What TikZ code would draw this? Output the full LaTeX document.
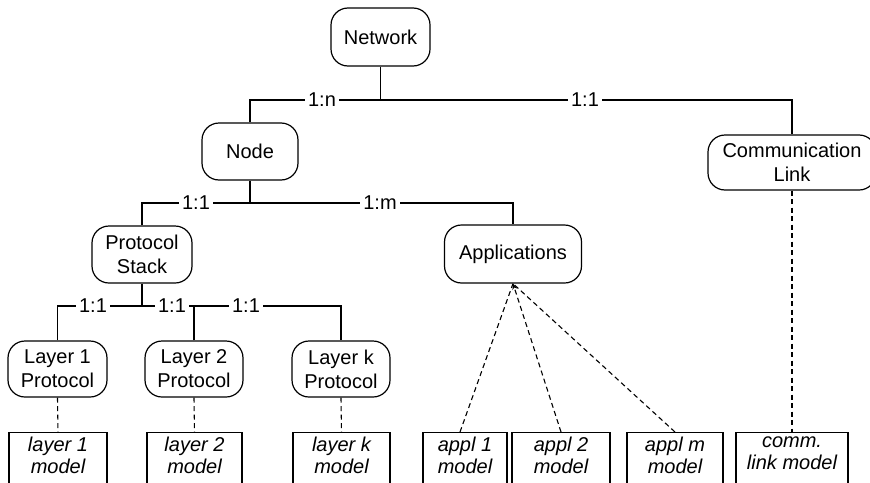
\documentclass[tikz,border=0pt]{standalone}
\usepackage{fontspec}
\setmainfont{Liberation Sans}
\usetikzlibrary{arrows.meta}
\begin{document}
\begin{tikzpicture}[x=1pt,y=-1pt,
  every node/.style={font=\fontsize{20}{24}\selectfont},
  rbox/.style={draw, line width=1.2pt, rounded corners=17pt, align=center, inner sep=0pt},
  mbox/.style={draw, line width=1.2pt, minimum height=70pt, anchor=north, inner sep=0pt},
  mtext/.style={anchor=north, align=center, font=\fontsize{20}{22}\selectfont\itshape, inner sep=0pt},
  lab/.style={fill=white, inner xsep=3pt, inner ysep=1pt},
  conn/.style={line width=1.2pt},
  dconn/.style={line width=1.1pt, dash pattern=on 5pt off 3.5pt}]
\useasboundingbox (0,0) rectangle (870,482);

% rounded nodes
\node[rbox, minimum width=99pt, minimum height=58pt] (net) at (380.5,37) {Network};
\node[rbox, minimum width=96pt, minimum height=57pt] (node) at (250,151.5) {Node};
\node[rbox, minimum width=168pt, minimum height=55pt] (comm) at (792,162.5) {Communication\\Link};
\node[rbox, minimum width=100pt, minimum height=57pt] (ps) at (142,254.5) {Protocol\\Stack};
\node[rbox, minimum width=137pt, minimum height=58pt] (app) at (513,254) {Applications};
\node[rbox, minimum width=99pt, minimum height=56pt] (l1) at (57.5,369) {Layer 1\\Protocol};
\node[rbox, minimum width=98pt, minimum height=56pt] (l2) at (194,369) {Layer 2\\Protocol};
\node[rbox, minimum width=98pt, minimum height=56pt] (lk) at (341,369) {Layer k\\Protocol};

% model boxes
\node[mbox, minimum width=98pt] (m1) at (58,432) {};
\node[mbox, minimum width=95pt] (m2) at (194.5,432) {};
\node[mbox, minimum width=97pt] (mk) at (341.5,432) {};
\node[mbox, minimum width=84pt] (a1) at (465,432) {};
\node[mbox, minimum width=98pt] (a2) at (561,432) {};
\node[mbox, minimum width=96pt] (am) at (675,432) {};
\node[mbox, minimum width=112pt] (cm) at (792,432) {};

\node[mtext] (m1t) at (58,437) {layer 1\\model};
\node[mtext] (m2t) at (194.5,437) {layer 2\\model};
\node[mtext] (mkt) at (341.5,437) {layer k\\model};
\node[mtext] (a1t) at (465,437) {appl 1\\model};
\node[mtext] (a2t) at (561,437) {appl 2\\model};
\node[mtext] (amt) at (675,437) {appl m\\model};
\node[mtext] (cmt) at (792,437) {comm.\\link model};

% tree connectors
\coordinate (j1) at (380.5,100);
\draw[conn] (net.south) -- (j1);
\draw[conn] (node.north) |- (comm.north |- j1) -- (comm.north);

\coordinate (j2) at (250,203);
\draw[conn] (node.south) -- (j2);
\draw[conn] (ps.north) |- (app.north |- j2) -- (app.north);

\coordinate (j3) at (142,306);
\draw[conn] (ps.south) -- (j3);
\draw[conn] (l1.north) |- (lk.north |- j3) -- (lk.north);
\draw[conn] (l2.north) -- (l2.north |- j3);

% multiplicity labels
\node[lab] (t1) at (322,100) {1:n};
\node[lab] (t2) at (585,100) {1:1};
\node[lab] (t3) at (196,203) {1:1};
\node[lab] (t4) at (380,203) {1:m};
\node[lab] (t5) at (93,306) {1:1};
\node[lab] (t6) at (172,306) {1:1};
\node[lab] (t7) at (246,306) {1:1};

% dashed model links
\draw[dconn] (l1.south) -- (m1.north);
\draw[dconn] (l2.south) -- (m2.north);
\draw[dconn] (lk.south) -- (mk.north);
\draw[dconn] ([xshift=-5pt]a1.north) -- (app.south);
\draw[dconn, -{Stealth[length=6pt,width=5pt]}] (a2.north) -- (app.south);
\draw[dconn] (am.north) -- (app.south);
\draw[dconn] (comm.south) -- (cm.north);
\end{tikzpicture}
\end{document}
